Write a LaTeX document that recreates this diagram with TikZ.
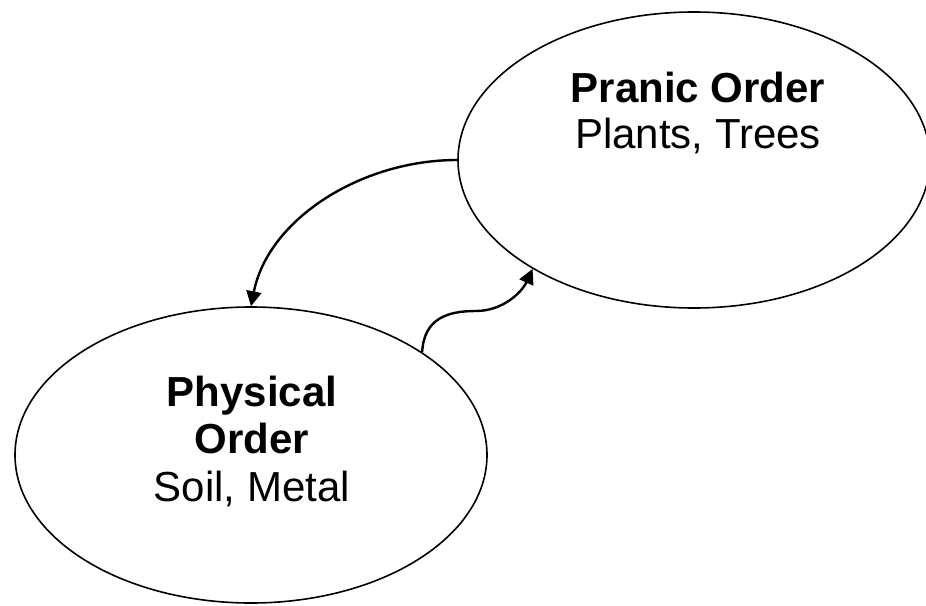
\documentclass[tikz,border=0pt]{standalone}
\usepackage{fontspec}
\setmainfont{Liberation Sans}
\usetikzlibrary{shapes.geometric,arrows.meta}
\tikzset{
  realm/.style={draw,ellipse,line width=1.6pt,minimum width=472pt,minimum height=296pt,inner sep=0pt},
  caption/.style={align=center,inner sep=0pt,font=\fontsize{42}{46}\selectfont},
  flow/.style={line width=2.4pt,-{Triangle[length=15pt,width=15pt]}}
}
\begin{document}
\begin{tikzpicture}[x=1pt,y=-1pt]
    \useasboundingbox (0,0) rectangle (926,605);
    \node[realm] (P) at (694,160) {};
    \node[realm] (Ph) at (251,455) {};
    \node[caption] (Ptxt) at (698,113) {\textbf{Pranic Order}\\Plants, Trees};
    \node[caption,font=\fontsize{42}{47.5}\selectfont] (Phtxt) at (252,441) {\textbf{Physical}\\\textbf{Order}\\Soil, Metal};
    \draw[flow] (P.west) .. controls (360,160) and (268,220) .. (Ph.north);
    \draw[flow] (Ph.31) .. controls (424,318) and (448,311) .. (476,311)
                        .. controls (503,311) and (522,292) .. (P.214);
\end{tikzpicture}
\end{document}
